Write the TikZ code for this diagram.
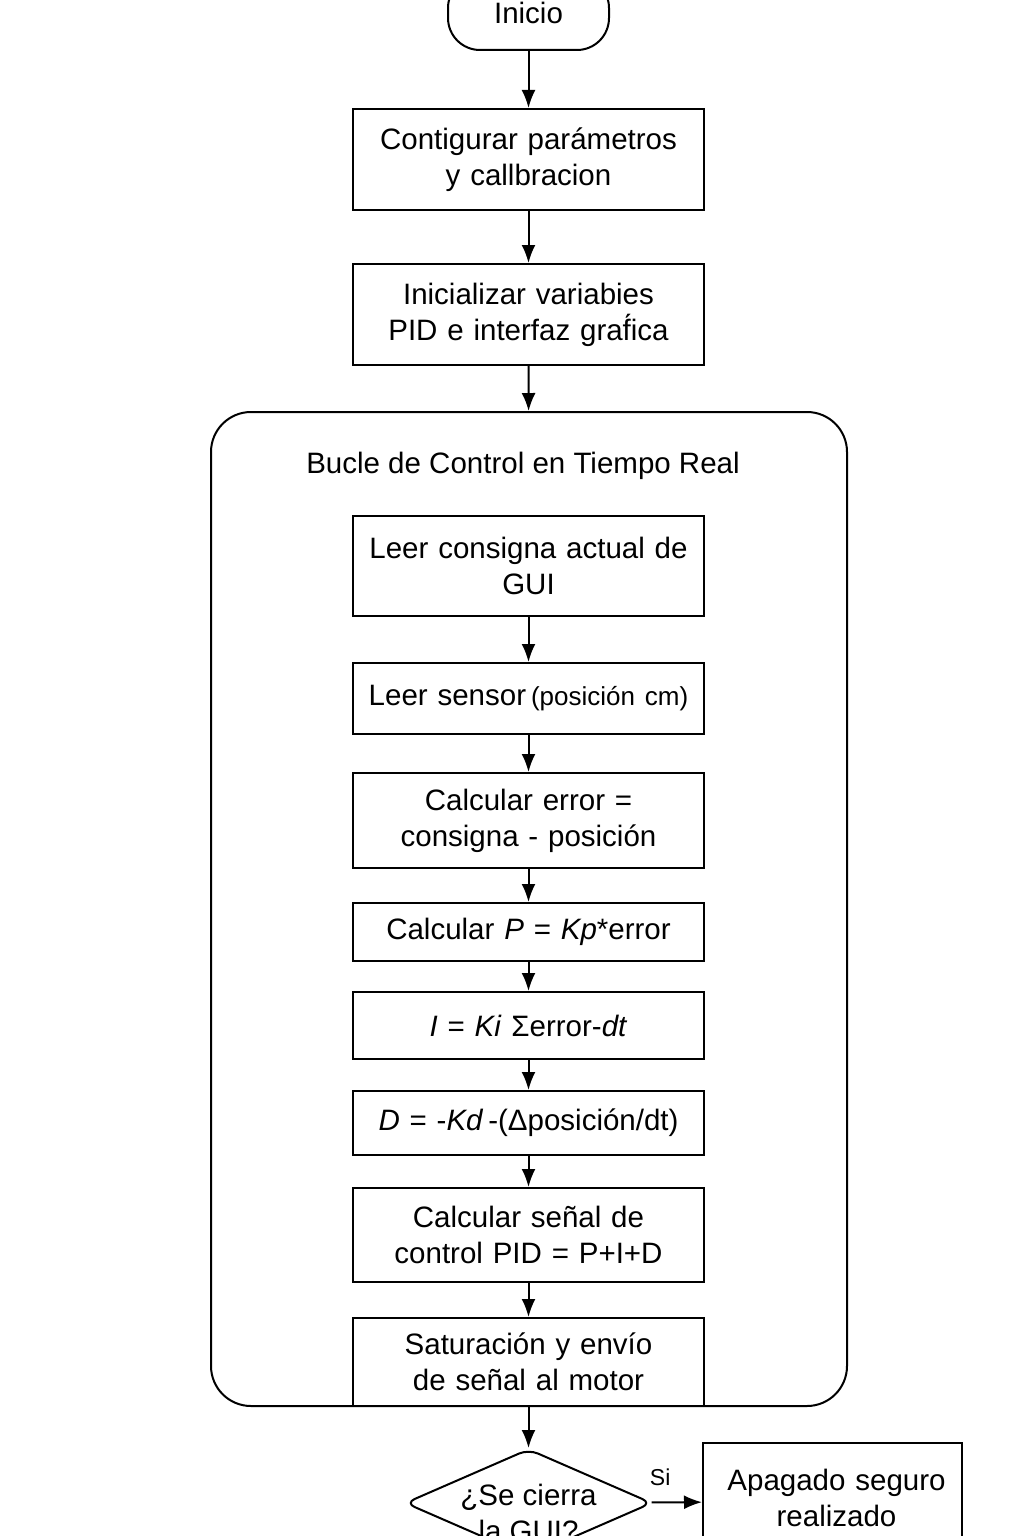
\documentclass[tikz,border=0pt]{standalone}
\usepackage{fontspec}
\setmainfont{Liberation Sans}
\usetikzlibrary{shapes.geometric,arrows.meta}

\begin{document}
\begin{tikzpicture}[x=1pt, y=-1pt, line width=2pt,
  font=\fontsize{29.5}{36}\selectfont,
  box/.style={draw, minimum width=351pt, text width=345pt, align=center, inner sep=0pt},
  term/.style={draw, rounded corners=32pt, minimum width=161pt, minimum height=74pt},
  loop/.style={draw, rounded corners=40pt, minimum width=636pt, minimum height=994pt},
  decision/.style={draw, diamond, rounded corners=10pt, aspect=2.29, inner sep=0pt,
    minimum width=247pt, minimum height=108pt},
  ->/.style={-{Latex[length=18pt,width=14pt]}}]
  \useasboundingbox (0,0) rectangle (1024,1536);
  \node[loop] (bucle) at (529,909) {};
  \node (titulo) at (523,466) {Bucle de Control en Tiempo Real};
  \node[term] (inicio) at (528.5,13) {Inicio};
  \node[box, minimum height=101pt] (conf) at (528.5,159.5) {Contigurar parámetros\\y callbracion};
  \node[box, minimum height=101pt] (init) at (528.5,314.5) {Inicializar variabies\\PID e interfaz graf́ica};
  \node[box, minimum height=100pt] (leer) at (528.5,566) {Leer consigna actual de\\GUI};
  \node[box, minimum height=71pt] (sensor) at (528.5,698.5) {Leer sensor\,{\fontsize{26}{30}\selectfont(posición cm)}};
  \node[box, minimum height=95pt] (error) at (528.5,820.5) {Calcular error =\\consigna - posición};
  \node[box, minimum height=58pt] (prop) at (528.5,932) {Calcular \textit{P} = \textit{Kp}*error};
  \node[box, minimum height=67pt] (integ) at (528.5,1025.5) {\textit{I} = \textit{Ki} Σerror-\textit{dt}};
  \node[box, minimum height=64pt] (deriv) at (528.5,1123) {\textit{D} = -\textit{Kd}\,-(Δposición/dt)};
  \node[box, minimum height=94pt] (pid) at (528.5,1235) {Calcular señal de\\control PID = P+I+D};
  \node[box, minimum height=88pt] (sat) at (528.5,1362) {Saturación y envío\\de señal al motor};
  \node[decision, label={[align=center, yshift=-10pt]center:¿Se cierra\\la GUI?}] (cierra) at (528.5,1503) {};
  \node[box, minimum width=259pt, text width=255pt, minimum height=117pt] (apagado) at (832.5,1501.5) {\raisebox{30pt}{\hspace{8pt}\begin{tabular}{c}Apagado seguro\\realizado\end{tabular}}};
  \path[->]
  (inicio) edge (conf)
  (conf) edge (init)
  (init) edge (bucle)
  (leer) edge (sensor)
  (sensor) edge (error)
  (error) edge (prop)
  (prop) edge (integ)
  (integ) edge (deriv)
  (deriv) edge (pid)
  (pid) edge (sat)
  (sat) edge (cierra)
  (cierra) edge node[pos=0.17, above=12pt, font=\fontsize{23}{26}\selectfont] {Si} (apagado);
\end{tikzpicture}
\end{document}
